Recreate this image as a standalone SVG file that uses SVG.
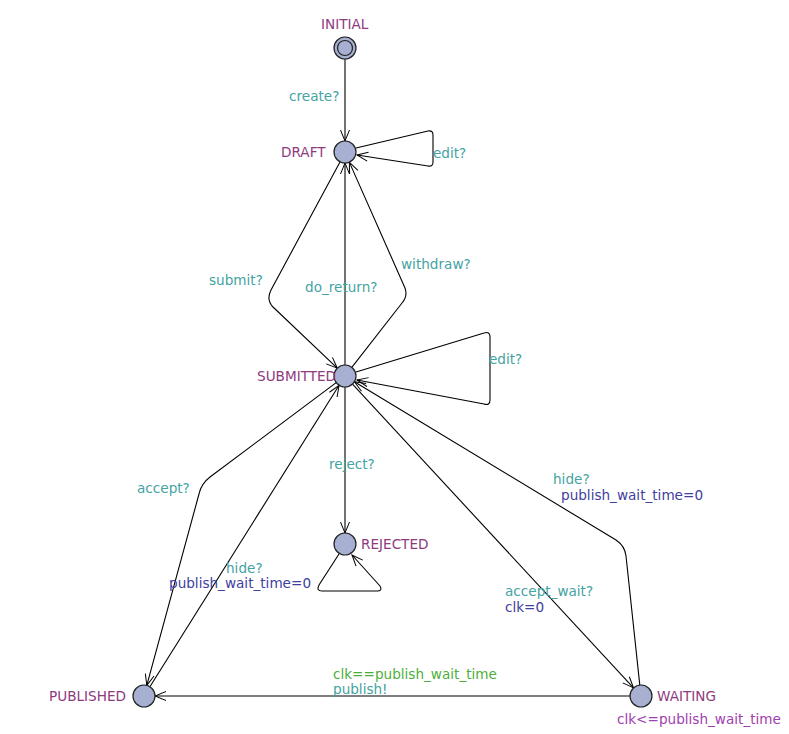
<svg xmlns="http://www.w3.org/2000/svg" width="789" height="734" viewBox="0 0 789 734">
<defs>
<marker id="arr" markerWidth="14" markerHeight="12" refX="12" refY="6" orient="auto" markerUnits="userSpaceOnUse">
<path d="M1,1.5 L12,6 L1,10.5" fill="none" stroke="#000" stroke-width="1"/>
</marker>
</defs>
<style>
text{font-family:"DejaVu Sans",Verdana,sans-serif;font-size:13.6px}
.nm{fill:#8E3A7E}
.sy{fill:#44A3A3}
.as{fill:#4040A0}
.gd{fill:#4CAF3C}
.iv{fill:#A040B0}
.loc{fill:#A8B0D2;stroke:#222;stroke-width:1.2}
.e{fill:none;stroke:#000;stroke-width:1.1;marker-end:url(#arr)}
</style>
<rect width="789" height="734" fill="#fff"/>
<g id="connectors">
<path class="e" d="M345,59 L345,141"/>
<path class="e" d="M356,148 L428,131 Q433,130 433,135 L433,162 Q433,167 428,166 L357,155"/>
<path class="e" d="M340,162 L271,290 Q266,300 273,307 L337.3,368.2"/>
<path class="e" d="M345,365 L345,163"/>
<path class="e" d="M351.8,367.3 L402,303 Q408,296 405,288 L349.3,162.1"/>
<path class="e" d="M356,372 L484,333 Q490,331 490,337 L490,400 Q490,406 484,404 L357,380"/>
<path class="e" d="M345,387 L345,533"/>
<path class="e" d="M339,554 L319,585 Q316,591 322,591 L377,591 Q383,591 380,586 L352,555"/>
<path class="e" d="M336.2,382.6 L210,477 Q201,484 199,494 L146.8,685.4"/>
<path class="e" d="M149.9,686.7 L339.1,385.3"/>
<path class="e" d="M352.5,384.1 L633.5,687.9"/>
<path class="e" d="M639.8,685.1 L626,556 Q625,546 616,540 L354.4,381.7"/>
<path class="e" d="M630,696 L155,696"/>
</g>
<g id="INITIAL">
<circle class="loc" cx="345" cy="48" r="11"/>
<circle cx="345" cy="48" r="7.5" fill="none" stroke="#222" stroke-width="1.2"/>
<text class="nm" x="321" y="29">INITIAL</text>
</g>
<g id="DRAFT">
<circle class="loc" cx="345" cy="152" r="11"/>
<text class="nm" x="281" y="157">DRAFT</text>
</g>
<g id="SUBMITTED">
<circle class="loc" cx="345" cy="376" r="11"/>
<text class="nm" x="257" y="381">SUBMITTED</text>
</g>
<g id="REJECTED">
<circle class="loc" cx="345" cy="544" r="11"/>
<text class="nm" x="361" y="549">REJECTED</text>
</g>
<g id="PUBLISHED">
<circle class="loc" cx="144" cy="696" r="11"/>
<text class="nm" x="49" y="701">PUBLISHED</text>
</g>
<g id="WAITING">
<circle class="loc" cx="641" cy="696" r="11"/>
<text class="nm" x="657" y="701">WAITING</text>
<text class="iv" x="617" y="724">clk&lt;=publish_wait_time</text>
</g>
<g id="labels">
<text class="sy" x="289" y="101">create?</text>
<text class="sy" x="433" y="158">edit?</text>
<text class="sy" x="209" y="285">submit?</text>
<text class="sy" x="305" y="292">do_return?</text>
<text class="sy" x="401" y="269">withdraw?</text>
<text class="sy" x="489" y="364">edit?</text>
<text class="sy" x="329" y="469">reject?</text>
<text class="sy" x="137" y="493">accept?</text>
<text class="sy" x="553" y="484">hide?</text>
<text class="as" x="561" y="500">publish_wait_time=0</text>
<text class="sy" x="226" y="573">hide?</text>
<text class="as" x="169" y="588">publish_wait_time=0</text>
<text class="sy" x="505" y="596">accept_wait?</text>
<text class="as" x="505" y="612">clk=0</text>
<text class="gd" x="333" y="679">clk==publish_wait_time</text>
<text class="sy" x="333" y="694">publish!</text>
</g>
</svg>
